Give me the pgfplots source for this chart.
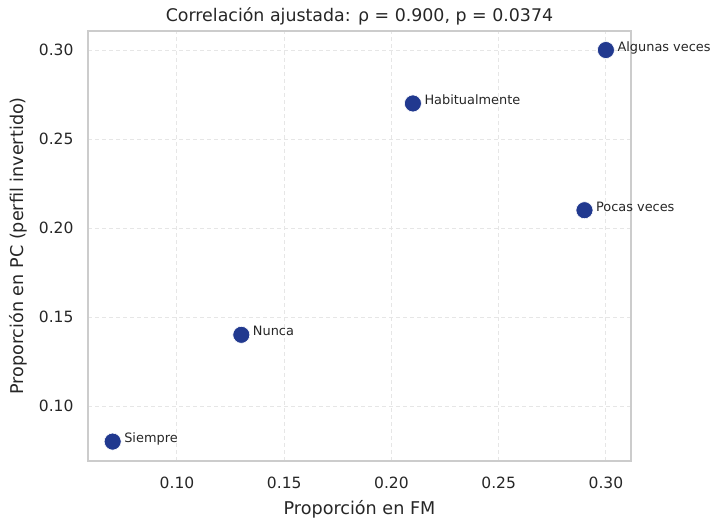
\documentclass[border=0pt]{standalone}
\usepackage{pgfplots}
\pgfplotsset{compat=1.18}
\usepackage{fontspec}
\setmainfont{DejaVu Sans}
\definecolor{txt}{HTML}{262626}
\definecolor{pt}{RGB}{33,57,143}
\definecolor{spine}{HTML}{CCCCCC}
\definecolor{gridc}{HTML}{E6E6E6}
\begin{document}
\begin{tikzpicture}[x=1pt,y=1pt]
\path[use as bounding box] (0,0) rectangle (712,520);
\begin{axis}[
  at={(88pt,59pt)}, anchor=south west,
  scale only axis, width=543pt, height=430pt,
  xmin=0.0585, xmax=0.3117, ymin=0.0691, ymax=0.3107,
  xtick={0.10,0.15,0.20,0.25,0.30},
  ytick={0.10,0.15,0.20,0.25,0.30},
  /pgf/number format/fixed,
  /pgf/number format/fixed zerofill,
  /pgf/number format/precision=2,
  /pgf/number format/assume math mode=true,
  ticklabel style={font=\fontsize{15.5}{18}\selectfont, text=txt},
  major tick length=0pt,
  xticklabel style={yshift=-12pt},
  yticklabel style={xshift=-11pt},
  axis line style={spine, line width=1.3pt},
  grid=major,
  major grid style={gridc, line width=1pt, dash pattern=on 4pt off 3pt},
  title={Correlación ajustada: ρ = 0.900, p = 0.0374},
  title style={font=\fontsize{17.4}{20}\selectfont, text=txt, at={(0.5,1)}, yshift=-4pt},
  xlabel={Proporción en FM},
  ylabel={Proporción en PC (perfil invertido)},
  label style={font=\fontsize{17.6}{20}\selectfont, text=txt},
  xlabel style={yshift=-5pt},
  ylabel style={yshift=5pt},
  clip=false,
]
\addplot[only marks, mark=*, mark size=8.5pt, mark options={fill=pt, draw=white, line width=0.6pt},
  point meta=explicit symbolic,
  nodes near coords,
  nodes near coords style={anchor=base west, xshift=8pt, yshift=-1pt,
    font=\fontsize{12.9}{15}\selectfont, text=txt}]
coordinates {
  (0.07,0.08) [Siempre]
  (0.13,0.14) [Nunca]
  (0.21,0.27) [Habitualmente]
  (0.29,0.21) [Pocas veces]
  (0.30,0.30) [Algunas veces]
};
\end{axis}
\end{tikzpicture}
\end{document}
